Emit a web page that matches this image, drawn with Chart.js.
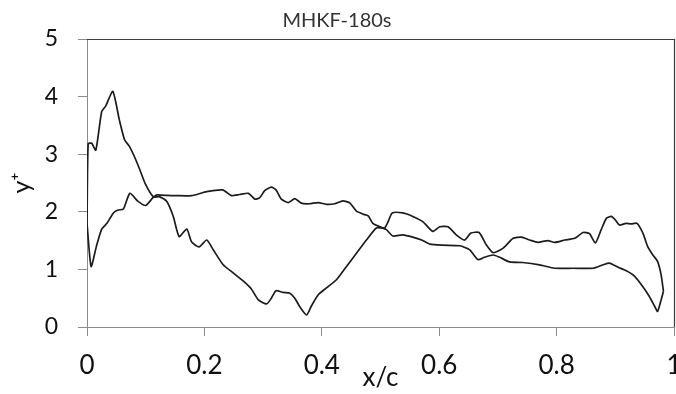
<!DOCTYPE html>
<html>
<head>
<meta charset="utf-8">
<title>MHKF-180s y+ distribution</title>
<script src="https://cdn.jsdelivr.net/npm/chart.js@4/dist/chart.umd.min.js"></script>
<style>
  html, body { margin: 0; padding: 0; background: #fff; overflow: hidden; }
  #wrap { width: 676px; height: 394px; overflow: hidden; }
  canvas { display: block; }
</style>
</head>
<body>
<div id="wrap"><canvas id="c" width="700" height="394"></canvas></div>
<script>
// Chordwise positions (x/c) and y+ values, first curve
const xA = [0.000, 0.002, 0.008, 0.015, 0.025, 0.032, 0.044, 0.055, 0.064, 0.072,
  0.082, 0.090, 0.100, 0.113, 0.124, 0.136, 0.147, 0.157, 0.170, 0.178,
  0.191, 0.204, 0.215, 0.232, 0.249, 0.266, 0.280, 0.292, 0.306, 0.314,
  0.322, 0.334, 0.345, 0.354, 0.362, 0.374, 0.382, 0.394, 0.408, 0.425,
  0.442, 0.459, 0.476, 0.493, 0.507, 0.513, 0.520, 0.538, 0.555, 0.572,
  0.589, 0.601, 0.615, 0.629, 0.643, 0.654, 0.668, 0.680, 0.692, 0.709,
  0.726, 0.740, 0.754, 0.768, 0.785, 0.797, 0.814, 0.831, 0.845, 0.856,
  0.866, 0.876, 0.885, 0.893, 0.900, 0.907, 0.918, 0.927, 0.937, 0.947,
  0.955, 0.964, 0.972, 0.978, 0.982];
const yA = [1.75, 3.18, 3.19, 3.07, 3.74, 3.84, 4.09, 3.60, 3.25, 3.14,
  2.93, 2.73, 2.47, 2.26, 2.26, 2.18, 1.92, 1.57, 1.70, 1.48,
  1.39, 1.51, 1.34, 1.08, 0.94, 0.80, 0.66, 0.47, 0.40, 0.50,
  0.63, 0.60, 0.59, 0.50, 0.36, 0.21, 0.36, 0.56, 0.68, 0.82,
  1.05, 1.28, 1.51, 1.72, 1.72, 1.83, 1.98, 1.98, 1.92, 1.83,
  1.66, 1.74, 1.74, 1.60, 1.51, 1.63, 1.64, 1.43, 1.29, 1.37,
  1.54, 1.56, 1.51, 1.47, 1.50, 1.47, 1.51, 1.54, 1.64, 1.62,
  1.46, 1.69, 1.89, 1.92, 1.86, 1.77, 1.80, 1.79, 1.80, 1.63,
  1.40, 1.25, 1.14, 0.91, 0.62];

// Chordwise positions (x/c) and y+ values, second curve
const xB = [0.000, 0.007, 0.016, 0.025, 0.034, 0.045, 0.053, 0.062, 0.073, 0.087,
  0.100, 0.112, 0.118, 0.127, 0.152, 0.178, 0.204, 0.231, 0.246, 0.260,
  0.275, 0.286, 0.294, 0.303, 0.314, 0.322, 0.331, 0.343, 0.354, 0.365,
  0.379, 0.394, 0.408, 0.422, 0.436, 0.448, 0.459, 0.470, 0.479, 0.487,
  0.499, 0.510, 0.521, 0.538, 0.555, 0.570, 0.584, 0.606, 0.635, 0.652,
  0.666, 0.677, 0.692, 0.703, 0.720, 0.742, 0.771, 0.797, 0.828, 0.862,
  0.879, 0.890, 0.904, 0.918, 0.933, 0.947, 0.958, 0.967, 0.972, 0.978,
  0.982];
const yB = [1.80, 1.05, 1.40, 1.70, 1.80, 1.98, 2.03, 2.05, 2.32, 2.18,
  2.11, 2.24, 2.29, 2.29, 2.28, 2.28, 2.35, 2.38, 2.28, 2.30,
  2.32, 2.22, 2.24, 2.37, 2.43, 2.38, 2.22, 2.16, 2.23, 2.15,
  2.14, 2.16, 2.13, 2.14, 2.19, 2.15, 2.01, 1.96, 1.93, 1.80,
  1.74, 1.69, 1.58, 1.60, 1.56, 1.51, 1.44, 1.42, 1.41, 1.34,
  1.17, 1.21, 1.25, 1.21, 1.13, 1.12, 1.08, 1.02, 1.02, 1.02,
  1.08, 1.11, 1.04, 0.98, 0.88, 0.70, 0.53, 0.36, 0.27, 0.47,
  0.62];

// Axis tick labels
const xTickLabels = ['0', '0.2', '0.4', '0.6', '0.8', '1'];
const yTickLabels = ['0', '1', '2', '3', '4', '5'];

const toPoints = (xs, ys) => xs.map((x, i) => ({ x: x, y: ys[i] }));

const FONT = "Lato, 'DejaVu Sans', sans-serif";
const AXIS_GREY = '#8c8c8c';

// Closes the plot frame on the top and right sides
const frameBox = {
  id: 'frameBox',
  afterDraw(chart) {
    const a = chart.chartArea;
    const ctx = chart.ctx;
    ctx.save();
    ctx.strokeStyle = '#3c3c3c';
    ctx.lineWidth = 1.2;
    ctx.beginPath();
    ctx.moveTo(a.left, a.top + 0.5);
    ctx.lineTo(a.right + 0.5, a.top + 0.5);
    ctx.lineTo(a.right + 0.5, a.bottom);
    ctx.stroke();
    ctx.restore();
  }
};

const lineStyle = {
  borderColor: '#1c1c1c',
  borderWidth: 1.7,
  pointRadius: 0,
  pointHoverRadius: 0,
  fill: false,
  tension: 0.2,
  showLine: true
};

new Chart(document.getElementById('c'), {
  type: 'scatter',
  data: {
    datasets: [
      Object.assign({ label: 'A', data: toPoints(xA, yA) }, lineStyle),
      Object.assign({ label: 'B', data: toPoints(xB, yB) }, lineStyle)
    ]
  },
  options: {
    responsive: false,
    animation: false,
    layout: { padding: { left: 0, right: 26, top: 0, bottom: 0 } },
    plugins: {
      legend: { display: false },
      tooltip: { enabled: false },
      title: {
        display: true,
        text: 'MHKF-180s',
        color: '#333',
        font: { family: FONT, size: 20, weight: 'normal' },
        padding: { top: 9, bottom: 6 }
      }
    },
    scales: {
      x: {
        type: 'linear',
        min: 0,
        max: 1,
        afterFit(scale) { scale.height = 67; },
        border: { color: AXIS_GREY, width: 1 },
        grid: { drawOnChartArea: false, drawTicks: true, tickLength: 9, color: AXIS_GREY },
        ticks: {
          stepSize: 0.2,
          padding: 14,
          color: '#111',
          font: { family: FONT, size: 26 },
          maxRotation: 0,
          callback: (v, i) => xTickLabels[i]
        },
        title: {
          display: true,
          text: 'x/c',
          color: '#111',
          font: { family: FONT, size: 26 },
          padding: { top: 0, bottom: 1 }
        }
      },
      y: {
        type: 'linear',
        min: 0,
        max: 5,
        afterFit(scale) { scale.width = 87; },
        border: { color: AXIS_GREY, width: 1 },
        grid: { drawOnChartArea: false, drawTicks: true, tickLength: 9, color: AXIS_GREY },
        ticks: {
          stepSize: 1,
          padding: 20,
          color: '#111',
          font: { family: FONT, size: 23 },
          callback: (v, i) => yTickLabels[i]
        },
        title: {
          display: true,
          text: 'y\u207A',
          color: '#111',
          font: { family: FONT, size: 25 },
          padding: { top: 7, bottom: 0 }
        }
      }
    }
  },
  plugins: [frameBox]
});
</script>
</body>
</html>
